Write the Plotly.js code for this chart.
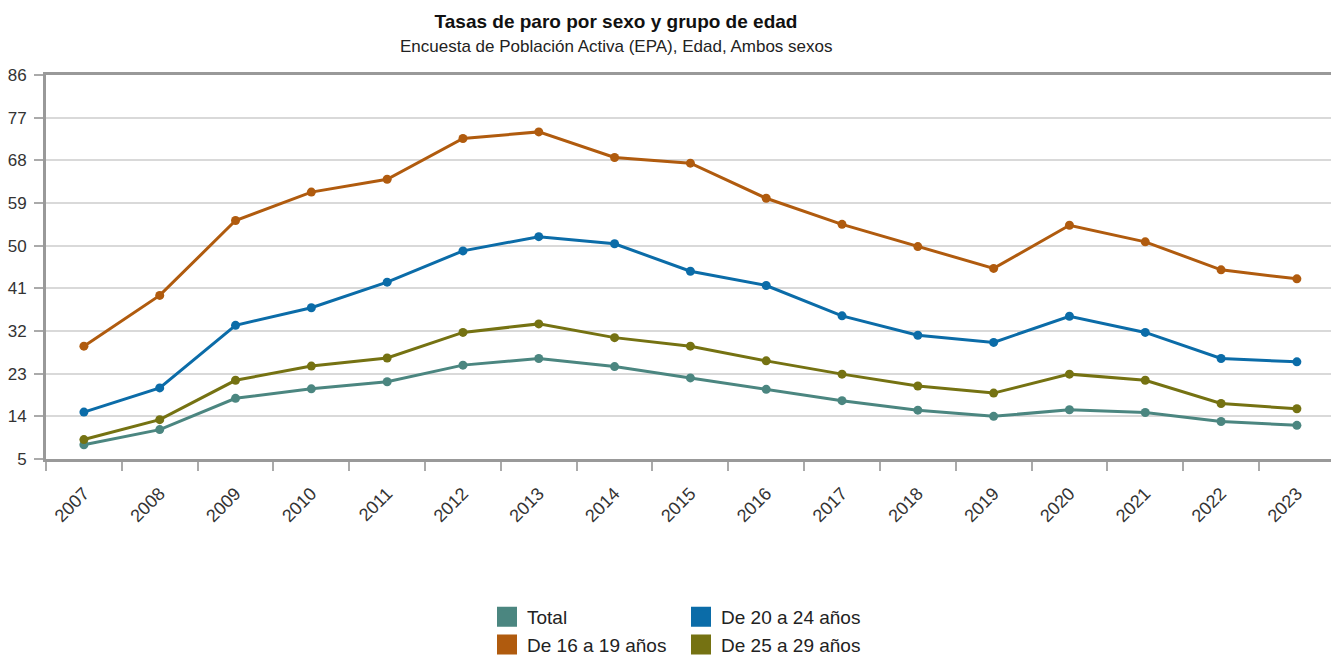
<!DOCTYPE html>
<html>
<head>
<meta charset="utf-8">
<script src="https://cdn.plot.ly/plotly-3.0.1.min.js"></script>
<style>html,body{margin:0;padding:0;background:#fff;}#chart{width:1331px;height:658px;}</style>
</head>
<body>
<div id="chart"></div>
<script>
const years = ['2007','2008','2009','2010','2011','2012','2013','2014','2015','2016','2017','2018','2019','2020','2021','2022','2023'];
const total   = [8.0, 11.2, 17.8, 19.8, 21.3, 24.8, 26.2, 24.5, 22.1, 19.7, 17.3, 15.3, 14.0, 15.4, 14.8, 12.9, 12.1];
const age1619 = [28.8, 39.5, 55.3, 61.3, 64.0, 72.6, 74.0, 68.6, 67.4, 60.0, 54.5, 49.8, 45.2, 54.3, 50.8, 44.9, 43.0];
const age2024 = [14.9, 20.0, 33.2, 36.9, 42.3, 48.9, 51.9, 50.4, 44.6, 41.6, 35.2, 31.1, 29.6, 35.1, 31.7, 26.2, 25.5];
const age2529 = [9.1, 13.3, 21.6, 24.6, 26.3, 31.7, 33.5, 30.6, 28.8, 25.7, 22.9, 20.4, 18.9, 22.9, 21.6, 16.7, 15.6];
const yTicks = [5, 14, 23, 32, 41, 50, 59, 68, 77, 86];

const series = [
  {name: 'Total', y: total, color: '#4b8680', legend: 'legend'},
  {name: 'De 16 a 19 años', y: age1619, color: '#b05b0e', legend: 'legend'},
  {name: 'De 20 a 24 años', y: age2024, color: '#0b6ca8', legend: 'legend2'},
  {name: 'De 25 a 29 años', y: age2529, color: '#757212', legend: 'legend2'}
];

const traces = [];
series.forEach(s => {
  traces.push({
    type: 'scatter', mode: 'lines+markers', x: years, y: s.y, name: s.name,
    line: {color: s.color, width: 3}, marker: {color: s.color, size: 9},
    showlegend: false, hoverinfo: 'x+y+name'
  });
});
series.forEach(s => {
  traces.push({
    type: 'scatter', mode: 'markers', x: [null], y: [null], name: s.name,
    marker: {color: s.color, symbol: 'square', size: 16, line: {color: s.color, width: 4}},
    showlegend: true, legend: s.legend
  });
});

const ML = 46, MT = 75, PW = 1331 - 46, PH = 384;
const font = {family: '"Liberation Sans", Arial, sans-serif', color: '#333'};

const layout = {
  width: 1331, height: 658,
  paper_bgcolor: '#fff', plot_bgcolor: '#fff',
  margin: {l: ML, r: 0, t: MT, b: 658 - MT - PH, autoexpand: false},
  font: Object.assign({size: 17}, font),
  title: {
    text: '<b>Tasas de paro por sexo y grupo de edad</b>',
    font: {family: font.family, size: 19, color: '#111'},
    xref: 'container', x: 616/1331, xanchor: 'center',
    yref: 'container', y: 1 - 21/658, yanchor: 'middle'
  },
  annotations: [{
    text: 'Encuesta de Población Activa (EPA), Edad, Ambos sexos',
    xref: 'paper', yref: 'paper',
    x: (616 - ML)/PW, xanchor: 'center',
    y: 1 + (MT - 47)/PH, yanchor: 'middle',
    showarrow: false, font: {family: font.family, size: 17, color: '#222'}
  }],
  xaxis: {
    type: 'category', range: [-0.5, 16.45],
    tickson: 'boundaries', ticks: 'outside', ticklen: 9, tickcolor: '#aaa', tickwidth: 2,
    tickangle: -45, tickfont: {size: 18, color: '#333'}, ticklabelstandoff: 14,
    showline: true, linecolor: '#999', linewidth: 3, mirror: true,
    showgrid: false, zeroline: false, fixedrange: true
  },
  yaxis: {
    range: [5, 86], tickvals: yTicks, ticktext: yTicks.map(String),
    ticks: 'outside', ticklen: 9, tickcolor: '#aaa', tickwidth: 2,
    tickfont: {size: 17, color: '#333'}, ticklabelstandoff: 4,
    showline: true, linecolor: '#999', linewidth: 3, mirror: false,
    showgrid: true, gridcolor: '#d9d9d9', gridwidth: 2, zeroline: false, fixedrange: true
  },
  legend: {
    xref: 'paper', yref: 'paper', x: (487 - ML)/PW, y: -(598 - MT - PH)/PH,
    xanchor: 'left', yanchor: 'top', orientation: 'v',
    font: {family: font.family, size: 19, color: '#222'}, bgcolor: 'rgba(0,0,0,0)'
  },
  legend2: {
    xref: 'paper', yref: 'paper', x: (681 - ML)/PW, y: -(598 - MT - PH)/PH,
    xanchor: 'left', yanchor: 'top', orientation: 'v',
    font: {family: font.family, size: 19, color: '#222'}, bgcolor: 'rgba(0,0,0,0)'
  },
  showlegend: true
};

Plotly.newPlot('chart', traces, layout, {displayModeBar: false, staticPlot: true});
</script>
</body>
</html>
